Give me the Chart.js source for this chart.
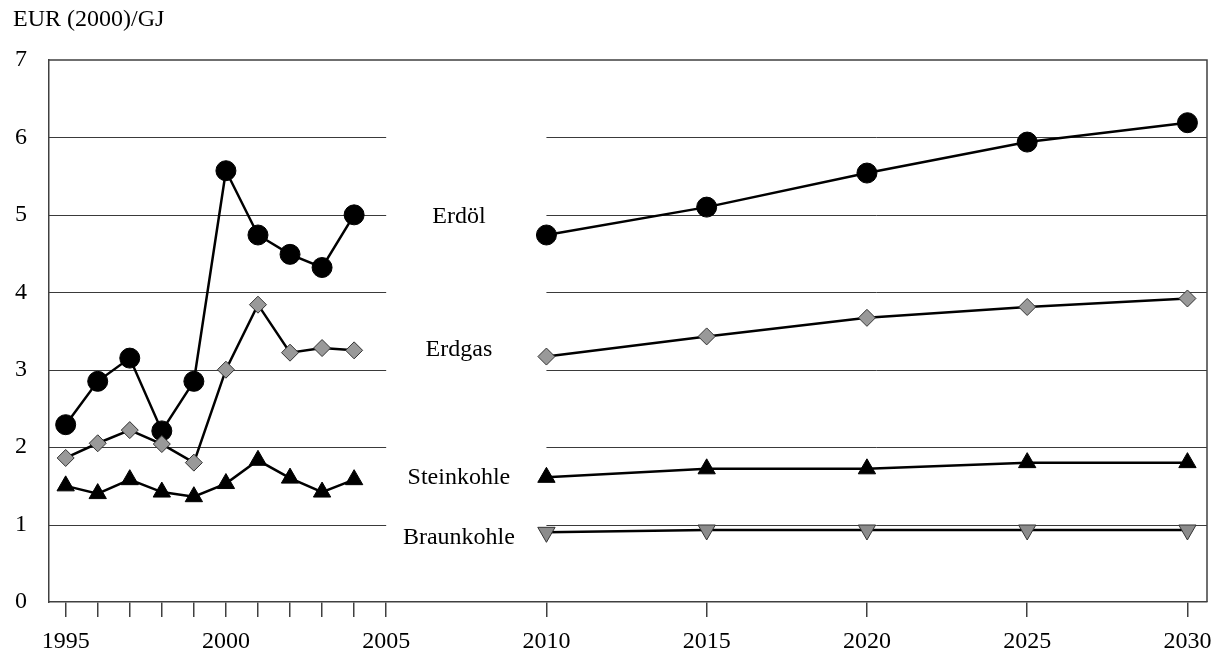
<!DOCTYPE html>
<html>
<head>
<meta charset="utf-8">
<script src="https://cdn.jsdelivr.net/npm/chart.js@4/dist/chart.umd.min.js"></script>
<style>
  html, body { margin: 0; padding: 0; background: #ffffff; }
  #wrap { width: 1218px; height: 652px; position: relative; }
</style>
</head>
<body>
<div id="wrap"><canvas id="c" width="1218" height="652"></canvas></div>
<script>
// ---- data ----
const histYears     = [1995, 1996, 1997, 1998, 1999, 2000, 2001, 2002, 2003, 2004];
const forecastYears = [2010, 2015, 2020, 2025, 2030];

const erdoelHist = [2.29, 2.85, 3.15, 2.21, 2.85, 5.57, 4.74, 4.49, 4.32, 5.00];
const erdoelProg = [4.74, 5.10, 5.54, 5.94, 6.19];

const erdgasHist = [1.86, 2.05, 2.22, 2.04, 1.80, 3.00, 3.84, 3.22, 3.28, 3.25];
const erdgasProg = [3.17, 3.43, 3.67, 3.81, 3.92];

const steinHist = [1.50, 1.40, 1.58, 1.42, 1.36, 1.53, 1.83, 1.60, 1.42, 1.58];
const steinProg = [1.61, 1.72, 1.72, 1.80, 1.80];

const braunProg = [0.90, 0.93, 0.93, 0.93, 0.93];

const seriesNames = ['Erdöl', 'Erdgas', 'Steinkohle', 'Braunkohle'];

const xTickValues = [1995, 1996, 1997, 1998, 1999, 2000, 2001, 2002, 2003, 2004, 2005, 2010, 2015, 2020, 2025, 2030];
const xTickLabels = ['1995', '', '', '', '', '2000', '', '', '', '', '2005', '2010', '2015', '2020', '2025', '2030'];
const yTickValues = [0, 1, 2, 3, 4, 5, 6, 7];
const yGridValues = [1, 2, 3, 4, 5, 6];
const unitLabel = 'EUR (2000)/GJ';

// ---- layout / style config ----
const FONT = "'Liberation Serif', 'Times New Roman', serif";
const AXIS_COLOR = '#404040';
const gap = { from: 2005, to: 2010 };              // gridline gap where labels sit
const labelAnchor = { x: 2007.27, y: [4.97, 3.26, 1.61, 0.83] };

function pts(xs, ys) { return xs.map((x, i) => ({ x: x, y: ys[i] })); }

const styles = {
  erdoel: { pointStyle: 'circle',   pointRadius: 10, pointBackgroundColor: '#000000', pointBorderColor: '#000000', pointBorderWidth: 1, pointRotation: 0 },
  erdgas: { pointStyle: 'rectRot',  pointRadius: 8.5, pointBackgroundColor: '#999999', pointBorderColor: '#333333', pointBorderWidth: 1, pointRotation: 0 },
  stein:  { pointStyle: 'triangle', pointRadius: 10, pointBackgroundColor: '#000000', pointBorderColor: '#000000', pointBorderWidth: 1, pointRotation: 0 },
  braun:  { pointStyle: 'triangle', pointRadius: 10, pointBackgroundColor: '#8c8c8c', pointBorderColor: '#333333', pointBorderWidth: 1, pointRotation: 180 }
};

function ds(label, data, st) {
  return Object.assign({
    label: label,
    data: data,
    borderColor: '#000000',
    borderWidth: 2.5,
    showLine: true,
    fill: false,
    tension: 0,
    pointHoverRadius: st.pointRadius
  }, st);
}

const datasets = [
  ds(seriesNames[0] + ' hist', pts(histYears, erdoelHist), styles.erdoel),
  ds(seriesNames[0] + ' prog', pts(forecastYears, erdoelProg), styles.erdoel),
  ds(seriesNames[1] + ' hist', pts(histYears, erdgasHist), styles.erdgas),
  ds(seriesNames[1] + ' prog', pts(forecastYears, erdgasProg), styles.erdgas),
  ds(seriesNames[2] + ' hist', pts(histYears, steinHist), styles.stein),
  ds(seriesNames[2] + ' prog', pts(forecastYears, steinProg), styles.stein),
  ds(seriesNames[3] + ' prog', pts(forecastYears, braunProg), styles.braun)
];
// draw order: lower series first so Erdöl is on top
datasets.forEach((d, i) => { d.order = datasets.length - i; });

const decorPlugin = {
  id: 'decor',
  beforeDatasetsDraw(chart) {
    const { ctx, chartArea: a, scales: { x, y } } = chart;
    ctx.save();
    // split horizontal gridlines
    ctx.strokeStyle = '#3a3a3a';
    ctx.lineWidth = 1;
    const gx1 = x.getPixelForValue(gap.from);
    const gx2 = x.getPixelForValue(gap.to);
    yGridValues.forEach(v => {
      const py = Math.round(y.getPixelForValue(v)) + 0.5;
      ctx.beginPath();
      ctx.moveTo(a.left, py); ctx.lineTo(gx1, py);
      ctx.moveTo(gx2, py); ctx.lineTo(a.right, py);
      ctx.stroke();
    });
    // top and right frame lines
    ctx.strokeStyle = AXIS_COLOR;
    ctx.lineWidth = 1.5;
    ctx.beginPath();
    ctx.moveTo(a.left, a.top); ctx.lineTo(a.right, a.top); ctx.lineTo(a.right, a.bottom);
    ctx.stroke();
    ctx.restore();
  },
  afterDatasetsDraw(chart) {
    const { ctx, scales: { x, y } } = chart;
    ctx.save();
    ctx.fillStyle = '#000000';
    ctx.font = '24px ' + FONT;
    ctx.textAlign = 'center';
    ctx.textBaseline = 'middle';
    seriesNames.forEach((name, i) => {
      ctx.fillText(name, x.getPixelForValue(labelAnchor.x), y.getPixelForValue(labelAnchor.y[i]));
    });
    // unit label top-left
    ctx.font = '24px ' + FONT;
    ctx.textAlign = 'left';
    ctx.fillText(unitLabel, 13, 20);
    ctx.restore();
  }
};

new Chart(document.getElementById('c'), {
  type: 'scatter',
  data: { datasets: datasets },
  options: {
    responsive: false,
    animation: false,
    devicePixelRatio: 1,
    layout: { padding: { top: 60, right: 11, left: 0, bottom: 0 } },
    plugins: { legend: { display: false }, tooltip: { enabled: false }, title: { display: false } },
    scales: {
      x: {
        type: 'linear',
        min: 1994.48,
        max: 2030.61,
        afterBuildTicks(scale) { scale.ticks = xTickValues.map(v => ({ value: v })); },
        afterFit(scale) { scale.height = 50; scale.paddingLeft = 0; scale.paddingRight = 0; },
        ticks: {
          autoSkip: false,
          maxRotation: 0,
          padding: 10,
          color: '#000000',
          font: { family: FONT, size: 24 },
          callback: (v, i) => xTickLabels[i]
        },
        grid: { drawOnChartArea: false, drawTicks: true, tickLength: 15, color: AXIS_COLOR, lineWidth: 1.5 },
        border: { display: true, color: AXIS_COLOR, width: 1.5 }
      },
      y: {
        type: 'linear',
        min: 0,
        max: 7,
        afterBuildTicks(scale) { scale.ticks = yTickValues.map(v => ({ value: v })); },
        afterFit(scale) { scale.width = 49; scale.paddingTop = 0; scale.paddingBottom = 0; },
        ticks: {
          padding: 22,
          color: '#000000',
          font: { family: FONT, size: 24 },
          callback: v => String(v)
        },
        grid: { display: false, drawTicks: false },
        border: { display: true, color: AXIS_COLOR, width: 1.5 }
      }
    }
  },
  plugins: [decorPlugin]
});
</script>
</body>
</html>
